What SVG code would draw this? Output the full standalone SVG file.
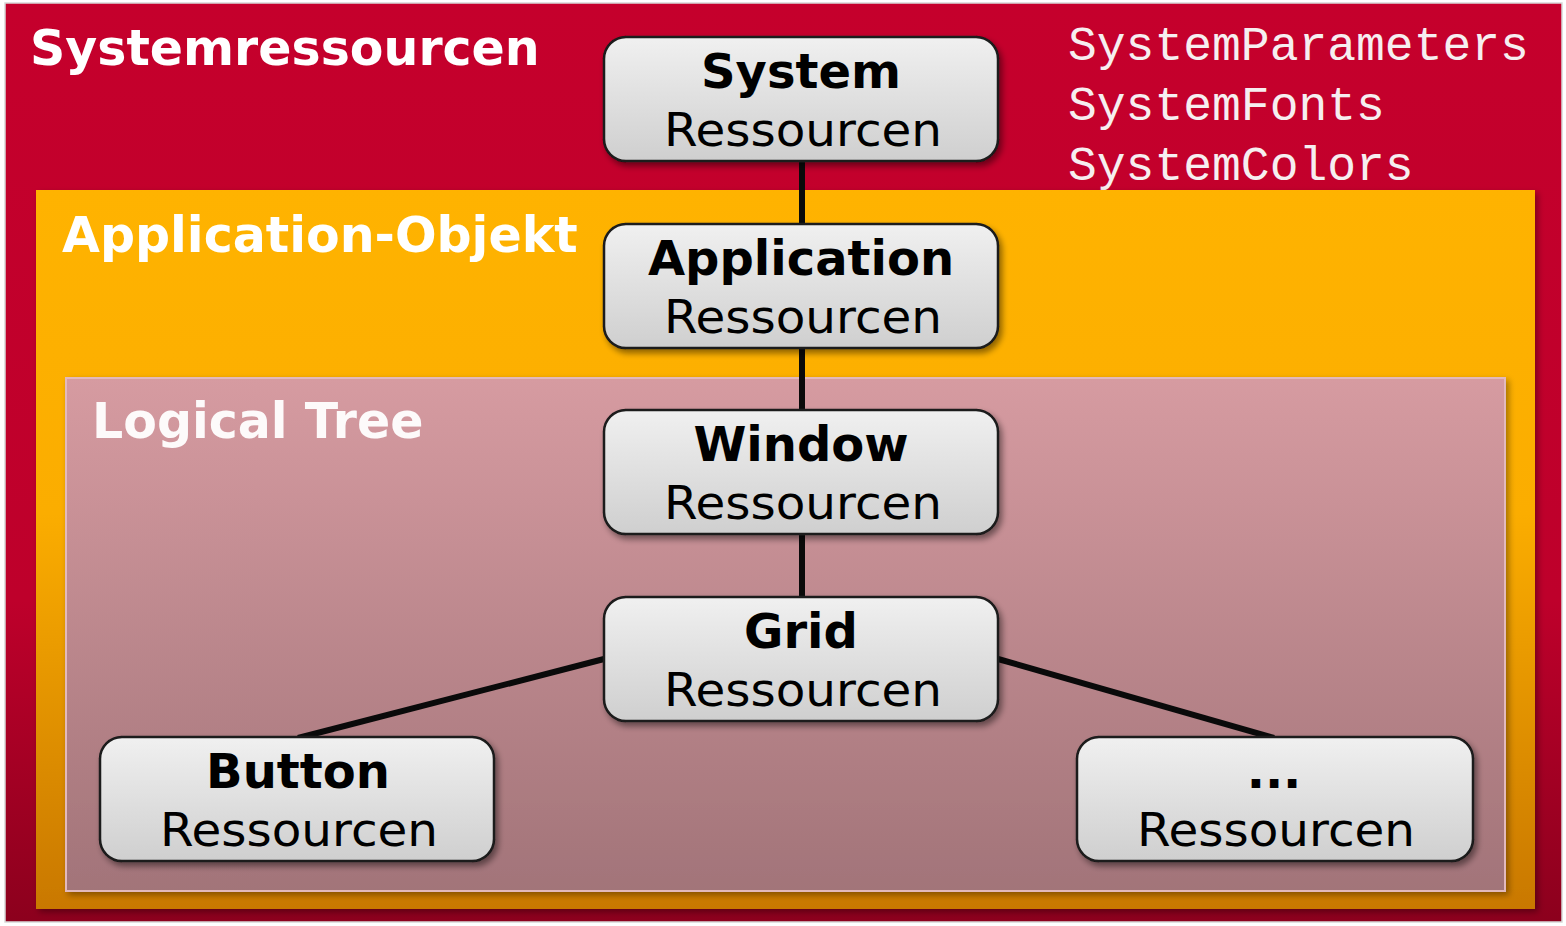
<svg xmlns="http://www.w3.org/2000/svg" width="1566" height="926" viewBox="0 0 1566 926">
  <defs>
    <linearGradient id="gRed" x1="0" y1="0" x2="0" y2="1">
      <stop offset="0" stop-color="#C5002C"/>
      <stop offset="0.65" stop-color="#BE002B"/>
      <stop offset="1" stop-color="#8C001D"/>
    </linearGradient>
    <linearGradient id="gOrange" x1="0" y1="0" x2="0" y2="1">
      <stop offset="0" stop-color="#FFB300"/>
      <stop offset="0.45" stop-color="#FBAD00"/>
      <stop offset="1" stop-color="#C97800"/>
    </linearGradient>
    <linearGradient id="gPink" x1="0" y1="0" x2="0" y2="1">
      <stop offset="0" stop-color="#D69BA1"/>
      <stop offset="1" stop-color="#A27479"/>
    </linearGradient>
    <linearGradient id="gNode" x1="0" y1="0" x2="0" y2="1">
      <stop offset="0" stop-color="#F0F0F0"/>
      <stop offset="1" stop-color="#CFCFCF"/>
    </linearGradient>
    <filter id="shadow" x="-10%" y="-10%" width="125%" height="130%">
      <feGaussianBlur in="SourceAlpha" stdDeviation="3"/>
      <feOffset dx="3" dy="4" result="b"/>
      <feComponentTransfer><feFuncA type="linear" slope="0.45"/></feComponentTransfer>
      <feMerge><feMergeNode/><feMergeNode in="SourceGraphic"/></feMerge>
    </filter>
    <filter id="panelShadow" x="-5%" y="-5%" width="110%" height="110%">
      <feGaussianBlur in="SourceAlpha" stdDeviation="3"/>
      <feOffset dx="3" dy="3" result="b"/>
      <feComponentTransfer><feFuncA type="linear" slope="0.35"/></feComponentTransfer>
      <feMerge><feMergeNode/><feMergeNode in="SourceGraphic"/></feMerge>
    </filter>
  </defs>
  <style>
    .heading { font-family: "DejaVu Sans", Verdana, sans-serif; font-weight: bold; font-size: 49px; fill: #FFFFFF; }
    .mono { font-family: "Liberation Mono", "Courier New", monospace; font-size: 48px; fill: #F6EEF0; }
    .box { fill: url(#gNode); stroke: #1A1A1A; stroke-width: 2.5; filter: url(#shadow); }
    .t1 { font-family: "DejaVu Sans", Verdana, sans-serif; font-weight: bold; font-size: 48px; fill: #000; text-anchor: middle; }
    .t2 { font-family: "DejaVu Sans", Verdana, sans-serif; font-size: 46px; fill: #000; text-anchor: middle; }
    .link { stroke: #0A0A0A; stroke-width: 6; fill: none; }
  </style>

  <rect width="1566" height="926" fill="#FFFFFF"/>

  <!-- nested scopes -->
  <g id="scope-system">
    <rect x="5" y="3" width="1557" height="919" fill="url(#gRed)" stroke="#D8D8D8" stroke-width="1.5"/>
    <text class="heading" x="30" y="65">Systemressourcen</text>
    <text class="mono" x="1068" y="60">SystemParameters</text>
    <text class="mono" x="1068" y="120">SystemFonts</text>
    <text class="mono" x="1068" y="180">SystemColors</text>
  </g>
  <g id="scope-application">
    <rect x="36" y="190" width="1499" height="719" fill="url(#gOrange)" filter="url(#panelShadow)"/>
    <text class="heading" x="62" y="252">Application-Objekt</text>
  </g>
  <g id="scope-logical-tree">
    <rect x="66" y="378" width="1439" height="513" fill="url(#gPink)" stroke="#E2B9BD" stroke-width="2" filter="url(#panelShadow)"/>
    <text class="heading" x="92" y="438" fill-opacity="0.95">Logical Tree</text>
  </g>

  <!-- connectors -->
  <g id="connectors">
    <line class="link" x1="802" y1="161" x2="802" y2="224"/>
    <line class="link" x1="802" y1="348" x2="802" y2="410"/>
    <line class="link" x1="802" y1="534" x2="802" y2="597"/>
    <line class="link" x1="604" y1="659" x2="298" y2="738"/>
    <line class="link" x1="998" y1="659" x2="1274" y2="738"/>
  </g>

  <!-- nodes -->
  <g id="node-system">
    <rect class="box" x="604" y="37" width="394" height="124" rx="22"/>
    <text class="t1" x="801" y="88">System</text>
    <text class="t2" x="803" y="146" textLength="278" lengthAdjust="spacingAndGlyphs">Ressourcen</text>
  </g>
  <g id="node-application">
    <rect class="box" x="604" y="224" width="394" height="124" rx="22"/>
    <text class="t1" x="801" y="275">Application</text>
    <text class="t2" x="803" y="333" textLength="278" lengthAdjust="spacingAndGlyphs">Ressourcen</text>
  </g>
  <g id="node-window">
    <rect class="box" x="604" y="410" width="394" height="124" rx="22"/>
    <text class="t1" x="801" y="461">Window</text>
    <text class="t2" x="803" y="519" textLength="278" lengthAdjust="spacingAndGlyphs">Ressourcen</text>
  </g>
  <g id="node-grid">
    <rect class="box" x="604" y="597" width="394" height="124" rx="22"/>
    <text class="t1" x="801" y="648">Grid</text>
    <text class="t2" x="803" y="706" textLength="278" lengthAdjust="spacingAndGlyphs">Ressourcen</text>
  </g>
  <g id="node-button">
    <rect class="box" x="100" y="737" width="394" height="124" rx="22"/>
    <text class="t1" x="298" y="788">Button</text>
    <text class="t2" x="299" y="846" textLength="278" lengthAdjust="spacingAndGlyphs">Ressourcen</text>
  </g>
  <g id="node-other">
    <rect class="box" x="1077" y="737" width="396" height="124" rx="22"/>
    <text class="t1" x="1274" y="788">...</text>
    <text class="t2" x="1276" y="846" textLength="278" lengthAdjust="spacingAndGlyphs">Ressourcen</text>
  </g>
</svg>
